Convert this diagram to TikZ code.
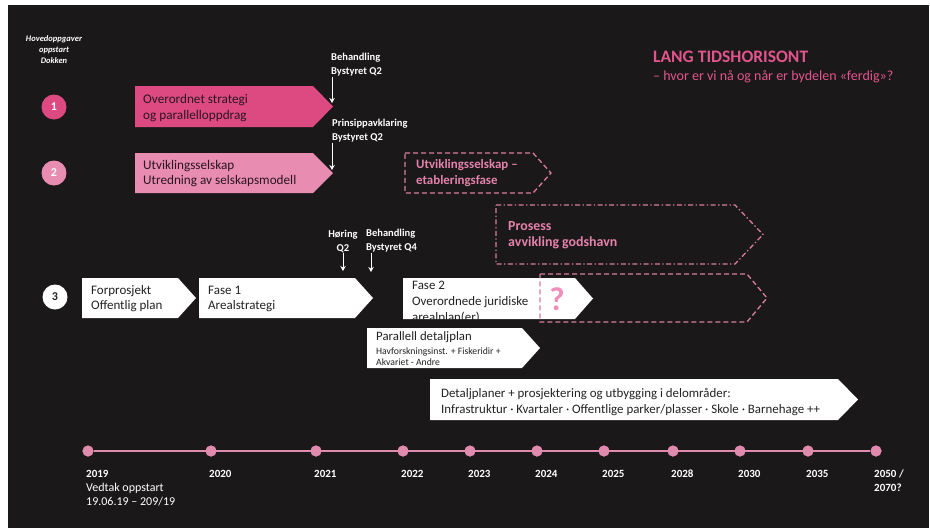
\documentclass[tikz,border=0pt]{standalone}
\usepackage{fontspec}
\setmainfont{Carlito}
\usetikzlibrary{arrows.meta}

\definecolor{bgdark}{HTML}{1B1819}
\definecolor{pinkA}{HTML}{DD4A82}
\definecolor{pinkB}{HTML}{E88CB1}
\definecolor{titlepink}{HTML}{E2558C}
\definecolor{dashpink}{HTML}{D77C9F}
\definecolor{dashtext}{HTML}{E583AB}
\definecolor{linepink}{HTML}{E08AAE}
\definecolor{qpink}{HTML}{F08DBA}
\definecolor{darktext}{HTML}{2A1520}
\definecolor{boxtext}{HTML}{222222}

% chevron: style, left x, top y, body end x, tip x, bottom y
\newcommand\chevron[6]{%
  \path[#1] (#2,#3) -- (#4,#3) -- (#5,{(#3+#6)/2}) -- (#4,#6) -- (#2,#6) -- cycle;}

\newcommand\fs[2]{\fontsize{#1}{#2}\selectfont}

\begin{document}
\begin{tikzpicture}[x=1pt,y=-1pt,
  txt/.style={inner sep=0pt, anchor=west, align=left},
  lbl/.style={inner sep=0pt, anchor=west, align=left, text=white, font=\bfseries\fs{10.5}{14}},
  arr/.style={white, line width=1pt, -{Stealth[length=5pt,width=5.5pt]}},
  num/.style={circle, inner sep=0pt, minimum size=25pt, font=\bfseries\fs{12}{13}},
  dot/.style={circle, fill=linepink, inner sep=0pt, minimum size=11pt},
  year/.style={inner sep=0pt, anchor=base west, text=white, font=\bfseries\fs{11}{14}},
  dashbox/.style={draw=dashpink, line width=1.3pt, dash pattern=on 5pt off 3pt},
  dotbox/.style={draw=dashpink, line width=1.3pt, dash pattern=on 5pt off 2.5pt on 1.3pt off 2.5pt}]

% page and dark panel
\fill[white] (0,0) rectangle (930,528);
\fill[bgdark] (8,5) rectangle (929,528);
\useasboundingbox (0,0) rectangle (930,528);

% heading
\node[txt, text=titlepink, font=\bfseries\fs{17.5}{18}] (title) at (653,57) {LANG TIDSHORISONT};
\node[txt, text=titlepink, font=\fs{14}{15}] (subtitle) at (653,77) {– hvor er vi nå og når er bydelen «ferdig»?};

% left column
\node[inner sep=0pt, align=center, text=white, font=\itshape\bfseries\fs{8.5}{11}] (hoved) at (54,50) {Hovedoppgaver\\oppstart\\Dokken};
\node[num, fill=pinkA, text=white] (c1) at (54,107) {1};
\node[num, fill=pinkB, text=white] (c2) at (54,173) {2};
\node[num, fill=white, text=boxtext] (c3) at (55,297) {3};

% row 1 and 2
\chevron{fill=pinkA}{135}{86}{313}{333}{127}
\node[txt, text=darktext, font=\fs{13.2}{16}] (t1) at (143,108) {Overordnet strategi\\og parallelloppdrag};
\chevron{fill=pinkB}{135}{153}{313}{333}{193}
\node[txt, text=darktext, font=\fs{13.2}{15}] (t2) at (143,174) {Utviklingsselskap\\Utredning av selskapsmodell};

\node[lbl] (beh1) at (331,65) {Behandling\\Bystyret Q2};
\coordinate (beh1end) at (332,103);
\draw[arr] (beh1end |- beh1.south) -- (beh1end);
\node[lbl] (prins) at (332,131) {Prinsippavklaring\\Bystyret Q2};
\coordinate (prinsend) at (332,170);
\draw[arr] (prinsend |- prins.south) -- (prinsend);

% future phases, outlined
\chevron{dashbox}{405}{153}{533}{551}{193}
\node[txt, text=dashtext, font=\bfseries\fs{12.9}{16}] (etab) at (416,173) {Utviklingsselskap –\\etableringsfase};
\chevron{dotbox}{496}{205}{735}{763}{264}
\node[txt, text=dashtext, font=\bfseries\fs{13.9}{16}] (avv) at (508,235) {Prosess\\avvikling godshavn};

% row 3 milestones
\node[inner sep=0pt, align=center, text=white, font=\bfseries\fs{10.5}{14}] (hor) at (343,241) {Høring\\Q2};
\coordinate (horend) at (343,271);
\draw[arr] (horend |- hor.south) -- (horend);
\node[lbl] (beh4) at (366,241) {Behandling\\Bystyret Q4};
\coordinate (beh4end) at (371,272);
\draw[arr] (beh4end |- beh4.south) -- (beh4end);

% row 3
\chevron{fill=white}{82}{278}{178}{196}{318}
\node[txt, text=boxtext, font=\fs{13}{15}] (forp) at (91,299) {Forprosjekt\\Offentlig plan};
\chevron{fill=white}{199}{278}{355}{373}{318}
\node[txt, text=boxtext, font=\fs{13}{15}] (fase1) at (208,299) {Fase 1\\Arealstrategi};

\chevron{fill=white}{403}{278}{575}{593}{319}
\begin{scope}
  \clip (403,278) rectangle (593,319);
  \node[txt, text=boxtext, font=\fs{12.9}{16}] (fase2) at (412,302) {Fase 2\\Overordnede juridiske\\arealplan(er)};
\end{scope}
\chevron{dashbox}{540}{274}{747}{767}{322}
\node[inner sep=0pt, text=qpink, font=\bfseries\fs{33}{34}] (q) at (557,299) {?};

\chevron{fill=white}{367}{328}{522}{540}{368}
\node[txt, text=boxtext, font=\fs{12.8}{14}] (par) at (376,337) {Parallell detaljplan};
\node[txt, text=boxtext, font=\fs{9.7}{11.5}] (parsub) at (376,356.5) {Havforskningsinst. + Fiskeridir +\\Akvariet - Andre};

\chevron{fill=white}{430}{379}{838}{858}{420}
\node[txt, text=boxtext, font=\fs{12.9}{16}] (det) at (441,402) {Detaljplaner + prosjektering og utbygging i delområder:\\Infrastruktur · Kvartaler · Offentlige parker/plasser · Skole · Barnehage ++};

% timeline
\foreach \x/\n in {88/2019,211/2020,316/2021,403/2022,470/2023,537/2024,604/2025,673/2028,740/2030,808/2035,876/2050}
  \node[dot] (d\n) at (\x,451) {};
\draw[linepink, line width=1.8pt] (d2019) -- (d2050);
\foreach \x/\n in {88/2019,211/2020,316/2021,403/2022,470/2023,537/2024,604/2025,673/2028,740/2030,808/2035,876/2050}
  \node[dot] at (\x,451) {};

\foreach \x/\n in {86/2019,209/2020,314/2021,401/2022,468/2023,535/2024,602/2025,671/2028,738/2030,806/2035}
  \node[year] (y\n) at (\x,477) {\n};
\node[year] (y2050) at (874,477) {2050 /};
\node[year] (y2070) at (874,491) {2070?};
\node[inner sep=0pt, anchor=base west, text=white, font=\fs{12}{14}] (vedtak) at (86,491) {Vedtak oppstart};
\node[inner sep=0pt, anchor=base west, text=white, font=\fs{12}{14}] (dato) at (86,505) {19.06.19 – 209/19};

\end{tikzpicture}
\end{document}
